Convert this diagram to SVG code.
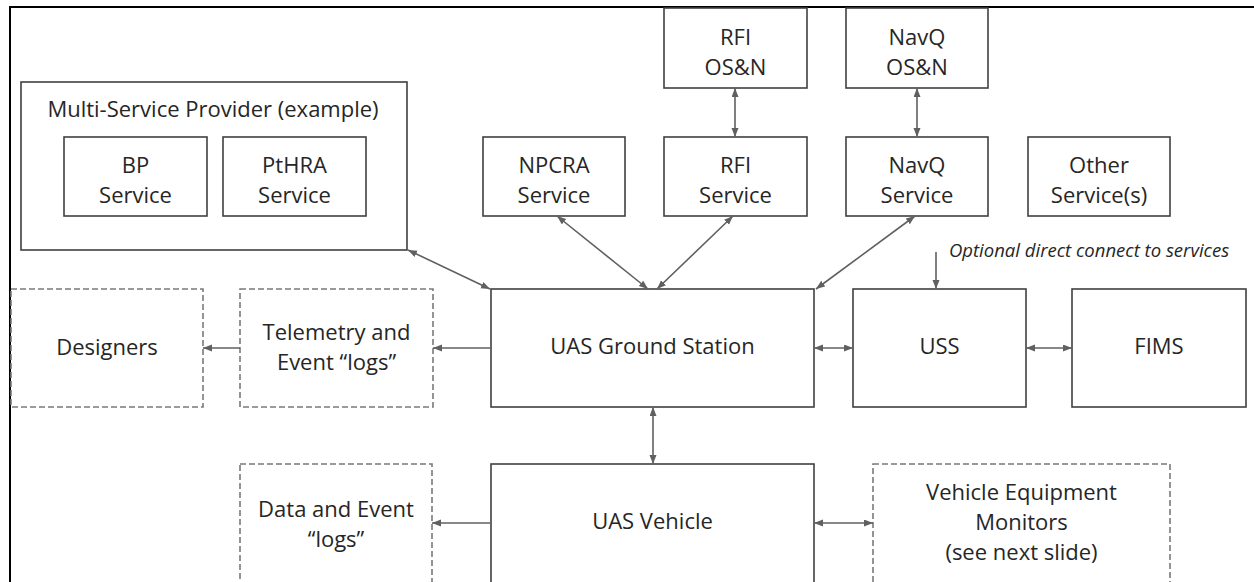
<svg xmlns="http://www.w3.org/2000/svg" width="1254" height="582" viewBox="0 0 1254 582">
<style>
.box{fill:#fff;stroke:#404040;stroke-width:1.6}
.dbox{fill:#fff;stroke:#7a7a7a;stroke-width:1.6;stroke-dasharray:6 3}
.t{font-family:"Open Sans","DejaVu Sans",sans-serif;font-size:22px;fill:#262626;text-anchor:middle}
.it{font-family:"Open Sans","DejaVu Sans",sans-serif;font-size:18.5px;font-style:italic;fill:#262626}
.c{stroke:#606060;stroke-width:1.6;fill:none}
.c2{marker-start:url(#ah);marker-end:url(#ah)}
.c1{marker-end:url(#ah)}
</style>
<defs>
<marker id="ah" markerUnits="userSpaceOnUse" markerWidth="10" markerHeight="8" refX="9" refY="3.5" orient="auto-start-reverse">
<path d="M0,0 L9,3.5 L0,7 z" fill="#606060"/>
</marker>
</defs>
<rect width="1254" height="582" fill="#fff"/>
<path d="M10,582 V7 H1254" fill="none" stroke="#000" stroke-width="2"/>

<g id="msp">
<rect class="box" x="21" y="82" width="386" height="168"/>
<text class="t" x="213" y="117">Multi-Service Provider (example)</text>
</g>
<g id="bp">
<rect class="box" x="64" y="137" width="143" height="79"/>
<text class="t" x="135.5" y="173">BP</text>
<text class="t" x="135.5" y="203">Service</text>
</g>
<g id="pthra">
<rect class="box" x="223" y="137" width="143" height="79"/>
<text class="t" x="294.5" y="173">PtHRA</text>
<text class="t" x="294.5" y="203">Service</text>
</g>
<g id="npcra">
<rect class="box" x="483" y="137" width="142" height="79"/>
<text class="t" x="554" y="173">NPCRA</text>
<text class="t" x="554" y="203">Service</text>
</g>
<g id="rfi">
<rect class="box" x="664" y="137" width="143" height="79"/>
<text class="t" x="735.5" y="173">RFI</text>
<text class="t" x="735.5" y="203">Service</text>
</g>
<g id="rfi-osn">
<rect class="box" x="664" y="8" width="143" height="80"/>
<text class="t" x="735.5" y="45">RFI</text>
<text class="t" x="735.5" y="75">OS&amp;N</text>
</g>
<g id="navq">
<rect class="box" x="846" y="137" width="142" height="79"/>
<text class="t" x="917" y="173">NavQ</text>
<text class="t" x="917" y="203">Service</text>
</g>
<g id="navq-osn">
<rect class="box" x="846" y="8" width="142" height="80"/>
<text class="t" x="917" y="45">NavQ</text>
<text class="t" x="917" y="75">OS&amp;N</text>
</g>
<g id="other">
<rect class="box" x="1028" y="137" width="142" height="79"/>
<text class="t" x="1099" y="173">Other</text>
<text class="t" x="1099" y="203">Service(s)</text>
</g>
<g id="note">
<text class="it" x="949" y="257">Optional direct connect to services</text>
</g>
<g id="designers">
<rect class="dbox" x="11" y="289" width="192" height="118"/>
<text class="t" x="107" y="355">Designers</text>
</g>
<g id="telemetry">
<rect class="dbox" x="240" y="289" width="193" height="118"/>
<text class="t" x="336.5" y="340">Telemetry and</text>
<text class="t" x="336.5" y="370">Event “logs”</text>
</g>
<g id="gs">
<rect class="box" x="491" y="289" width="323" height="118"/>
<text class="t" x="652.5" y="354">UAS Ground Station</text>
</g>
<g id="uss">
<rect class="box" x="853" y="289" width="173" height="118"/>
<text class="t" x="939.5" y="354">USS</text>
</g>
<g id="fims">
<rect class="box" x="1072" y="289" width="174" height="118"/>
<text class="t" x="1159" y="354">FIMS</text>
</g>
<g id="datalogs">
<rect class="dbox" x="240" y="464" width="192" height="140"/>
<text class="t" x="336" y="517">Data and Event</text>
<text class="t" x="336" y="547">“logs”</text>
</g>
<g id="vehicle">
<rect class="box" x="491" y="464" width="323" height="140"/>
<text class="t" x="652.5" y="529">UAS Vehicle</text>
</g>
<g id="vem">
<rect class="dbox" x="873" y="464" width="297" height="140"/>
<text class="t" x="1021.5" y="500">Vehicle Equipment</text>
<text class="t" x="1021.5" y="530">Monitors</text>
<text class="t" x="1021.5" y="560">(see next slide)</text>
</g>

<g id="connectors">
<line class="c c2" x1="408" y1="250" x2="490" y2="289"/>
<line class="c c2" x1="557" y1="216" x2="648" y2="289"/>
<line class="c c2" x1="733" y1="216" x2="657" y2="289"/>
<line class="c c2" x1="915" y1="216" x2="816" y2="289" stroke="#808080" stroke-width="2"/>
<line class="c c2" x1="735" y1="88" x2="735" y2="137"/>
<line class="c c2" x1="917" y1="88" x2="917" y2="137"/>
<line class="c c1" x1="936" y1="252" x2="936" y2="289"/>
<line class="c c1" x1="491" y1="348" x2="433" y2="348"/>
<line class="c c1" x1="240" y1="348" x2="203" y2="348"/>
<line class="c c2" x1="814" y1="348" x2="853" y2="348"/>
<line class="c c2" x1="1026" y1="348" x2="1072" y2="348"/>
<line class="c c2" x1="653" y1="407" x2="653" y2="464"/>
<line class="c c1" x1="491" y1="523" x2="432" y2="523"/>
<line class="c c2" x1="814" y1="523" x2="873" y2="523"/>
</g>
</svg>
